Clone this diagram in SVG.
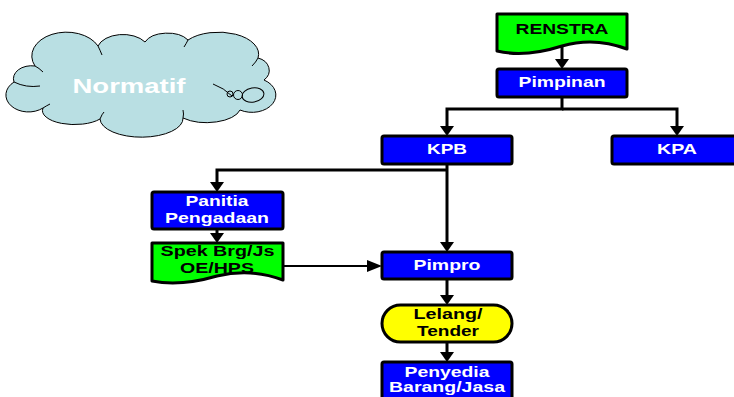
<svg xmlns="http://www.w3.org/2000/svg" width="734" height="397" viewBox="0 0 734 397">
<style>
.box{stroke:#000;stroke-width:3;stroke-linejoin:round}
.blue{fill:#0000ff}
.green{fill:#00ff00}
.yellow{fill:#ffff00}
.t{font-family:"Liberation Sans",Arial,sans-serif;font-weight:bold;font-size:14px;text-anchor:middle}
.w{fill:#fff}
.k{fill:#000}
.conn{fill:none;stroke:#000;stroke-width:3}
.thin{fill:none;stroke:#000;stroke-width:2}
.cloud{fill:#b9dfe3;stroke:#000;stroke-width:1}
.cl{fill:none;stroke:#000;stroke-width:1}
</style>
<defs>
<marker id="ah" markerUnits="userSpaceOnUse" viewBox="0 -7 10 14" refX="0" refY="0" markerWidth="10" markerHeight="14" orient="auto">
<path d="M0,-7 L10,0 L0,7 Z" fill="#000"/>
</marker>
<marker id="ah2" markerUnits="userSpaceOnUse" viewBox="0 -6 15 12" refX="0" refY="0" markerWidth="15" markerHeight="12" orient="auto">
<path d="M0,-6 L15,0 L0,6 Z" fill="#000"/>
</marker>
</defs>

<g id="normatif">
<path class="cloud" d="M14,82 A18,13 0 0 1 35,66 A32,22 0 0 1 98,46 A26,16 0 0 1 145,42 A24,14 0 0 1 188,40 A40,22 0 0 1 258,58 A16,13 0 0 1 264,80 A22,16 0 0 1 240,110 A34,16 0 0 1 183,118 A40,18 0 0 1 100,119 A32,14 0 0 1 43,108 A16,12 0 0 1 14,82 Z"/>
<path class="cl" d="M14,82 Q26,88 40,86"/>
<path class="cl" d="M35,66 Q39,68 43,72"/>
<path class="cl" d="M98,46 Q100,50 102,55"/>
<path class="cl" d="M188,40 Q186,44 184,47"/>
<path class="cl" d="M258,58 Q256,62 252,66"/>
<path class="cl" d="M213,84 Q224,88 232,96"/>
<path class="cl" d="M183,118 Q184,114 183,110"/>
<path class="cl" d="M100,119 Q102,114 104,112"/>
<path class="cl" d="M43,108 Q46,106 50,104"/>
<circle class="cl" cx="230" cy="94" r="3"/>
<circle class="cl" cx="238" cy="95" r="4.5"/>
<ellipse class="cl" cx="253" cy="95" rx="11" ry="7" transform="rotate(-10 253 95)"/>
<text class="t w" x="129" y="93" style="font-size:20px" textLength="113" lengthAdjust="spacingAndGlyphs">Normatif</text>
</g>

<g id="connectors">
<path class="conn" d="M562,46 V59" marker-end="url(#ah)"/>
<path class="conn" d="M562,97 V109 H447 V126" marker-end="url(#ah)"/>
<path class="conn" d="M562,109 H677 V126" marker-end="url(#ah)"/>
<path class="conn" d="M447,164 V242" marker-end="url(#ah)"/>
<path class="conn" d="M447,170 H217 V182" marker-end="url(#ah)"/>
<path class="conn" d="M217,229 V233" marker-end="url(#ah)"/>
<path class="thin" d="M283,266 H367" marker-end="url(#ah2)"/>
<path class="conn" d="M447,279 V295" marker-end="url(#ah)"/>
<path class="conn" d="M447,342 V352" marker-end="url(#ah)"/>
</g>

<g id="renstra">
<path class="box green" d="M497,14 H627 V49 C606,41 586,39 562,46 C540,53 518,56 497,51 Z"/>
<text class="t k" x="562" y="34" style="font-size:15px" textLength="93" lengthAdjust="spacingAndGlyphs">RENSTRA</text>
</g>

<g id="pimpinan">
<rect class="box blue" x="497" y="69" width="130" height="28" rx="2"/>
<text class="t w" x="562" y="87" textLength="87" lengthAdjust="spacingAndGlyphs">Pimpinan</text>
</g>

<g id="kpb">
<rect class="box blue" x="382" y="136" width="130" height="28" rx="2"/>
<text class="t w" x="447" y="154" textLength="40" lengthAdjust="spacingAndGlyphs">KPB</text>
</g>

<g id="kpa">
<rect class="box blue" x="612" y="136" width="130" height="28" rx="2"/>
<text class="t w" x="677" y="154" textLength="40" lengthAdjust="spacingAndGlyphs">KPA</text>
</g>

<g id="panitia">
<rect class="box blue" x="152" y="192" width="131" height="37" rx="2"/>
<text class="t w" x="217" y="206" textLength="63" lengthAdjust="spacingAndGlyphs">Panitia</text>
<text class="t w" x="217" y="223" textLength="104" lengthAdjust="spacingAndGlyphs">Pengadaan</text>
</g>

<g id="spek">
<path class="box green" d="M152,243 H283 V280 C262,272 242,270 217,276 C193,283 172,285 152,281 Z"/>
<text class="t k" x="217.5" y="256" textLength="114" lengthAdjust="spacingAndGlyphs">Spek Brg/Js</text>
<text class="t k" x="217" y="273" textLength="74" lengthAdjust="spacingAndGlyphs">OE/HPS</text>
</g>

<g id="pimpro">
<rect class="box blue" x="382" y="252" width="130" height="27" rx="2"/>
<text class="t w" x="447" y="270" textLength="67" lengthAdjust="spacingAndGlyphs">Pimpro</text>
</g>

<g id="lelang">
<rect class="box yellow" x="382" y="305" width="130" height="37" rx="18.5"/>
<text class="t k" x="448" y="319" textLength="69" lengthAdjust="spacingAndGlyphs">Lelang/</text>
<text class="t k" x="448" y="336" textLength="62" lengthAdjust="spacingAndGlyphs">Tender</text>
</g>

<g id="penyedia">
<rect class="box blue" x="382" y="362" width="130" height="45" rx="2"/>
<text class="t w" x="447" y="377" textLength="85" lengthAdjust="spacingAndGlyphs">Penyedia</text>
<text class="t w" x="447" y="392" textLength="116" lengthAdjust="spacingAndGlyphs">Barang/Jasa</text>
</g>
</svg>
